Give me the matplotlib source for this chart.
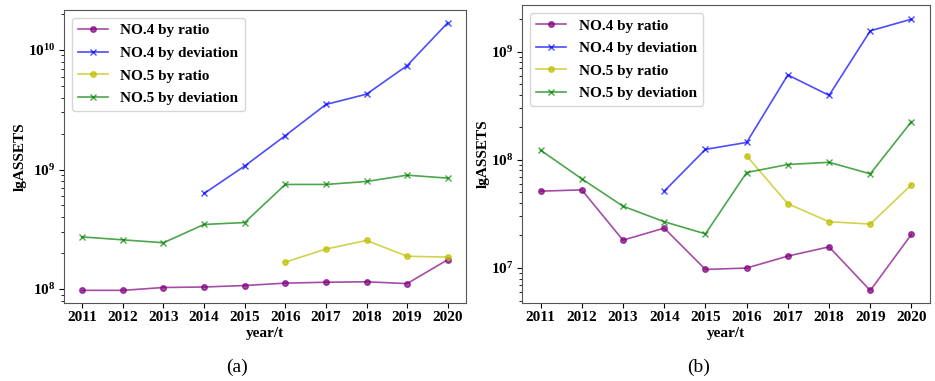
import matplotlib
matplotlib.use("Agg")
import matplotlib.pyplot as plt

plt.rcParams['font.family'] = ['Liberation Serif', 'DejaVu Serif']
plt.rcParams['font.weight'] = 'bold'

years = [2011, 2012, 2013, 2014, 2015, 2016, 2017, 2018, 2019, 2020]

# panel (a)
a_no4_ratio = [9.75e7, 9.75e7, 1.03e8, 1.04e8, 1.07e8, 1.12e8, 1.14e8, 1.15e8, 1.11e8, 1.76e8]
a_no4_dev_years = [2014, 2015, 2016, 2017, 2018, 2019, 2020]
a_no4_dev = [6.3e8, 1.07e9, 1.92e9, 3.5e9, 4.27e9, 7.4e9, 1.69e10]
a_no5_ratio_years = [2016, 2017, 2018, 2019, 2020]
a_no5_ratio = [1.68e8, 2.16e8, 2.55e8, 1.88e8, 1.85e8]
a_no5_dev = [2.73e8, 2.58e8, 2.44e8, 3.47e8, 3.6e8, 7.5e8, 7.5e8, 7.94e8, 8.97e8, 8.47e8]

# panel (b)
b_no4_ratio = [5.14e7, 5.28e7, 1.81e7, 2.34e7, 9.7e6, 1.0e7, 1.29e7, 1.57e7, 6.2e6, 2.05e7]
b_no4_dev_years = [2014, 2015, 2016, 2017, 2018, 2019, 2020]
b_no4_dev = [5.14e7, 1.25e8, 1.45e8, 6.1e8, 3.95e8, 1.56e9, 2.0e9]
b_no5_ratio_years = [2016, 2017, 2018, 2019, 2020]
b_no5_ratio = [1.09e8, 3.93e7, 2.68e7, 2.55e7, 5.9e7]
b_no5_dev = [1.23e8, 6.68e7, 3.73e7, 2.68e7, 2.07e7, 7.64e7, 9.06e7, 9.5e7, 7.43e7, 2.26e8]

labels = ['NO.4 by ratio', 'NO.4 by deviation', 'NO.5 by ratio', 'NO.5 by deviation']

fig = plt.figure(figsize=(9.35, 3.81), dpi=100)
ax1 = fig.add_axes([0.0684, 0.2047, 0.430, 0.769])
ax2 = fig.add_axes([0.5583, 0.2047, 0.4364, 0.782])


def draw(ax, r4, d4y, d4, r5y, r5, d5, ylim):
    kw = dict(alpha=0.7, linewidth=1.2, markersize=4)
    ax.plot(years, r4, color='purple', marker='o', label=labels[0], **kw)
    ax.plot(d4y, d4, color='blue', marker='x', label=labels[1], **kw)
    ax.plot(r5y, r5, color='y', marker='o', label=labels[2], **kw)
    ax.plot(years, d5, color='g', marker='x', label=labels[3], **kw)
    ax.set_yscale('log')
    ax.set_ylim(*ylim)
    ax.set_xticks(years)
    ax.set_xticklabels([str(y) for y in years])
    ax.tick_params(labelsize=11, pad=2.5)
    for t in ax.get_xticklabels() + ax.get_yticklabels():
        t.set_fontweight('bold')
    ax.set_xlabel('year/t', fontsize=11, fontweight='bold', labelpad=2)
    ax.set_ylabel('lgASSETS', fontsize=11, fontweight='bold', labelpad=1)
    ax.legend(loc='upper left', prop={'size': 11, 'weight': 'bold'},
              handlelength=2.0, borderaxespad=0.5, labelspacing=0.58)
    for s in ax.spines.values():
        s.set_color('#555555')


draw(ax1, a_no4_ratio, a_no4_dev_years, a_no4_dev, a_no5_ratio_years,
     a_no5_ratio, a_no5_dev, (7.64e7, 2.16e10))
draw(ax2, b_no4_ratio, b_no4_dev_years, b_no4_dev, b_no5_ratio_years,
     b_no5_ratio, b_no5_dev, (4.75e6, 2.7e9))

fig.text(0.2535, 0.035, '(a)', ha='center', va='center', fontsize=14,
         fontweight='normal', family='Liberation Serif')
fig.text(0.7476, 0.035, '(b)', ha='center', va='center', fontsize=14,
         fontweight='normal', family='Liberation Serif')

fig.savefig('out.png', dpi=100)
